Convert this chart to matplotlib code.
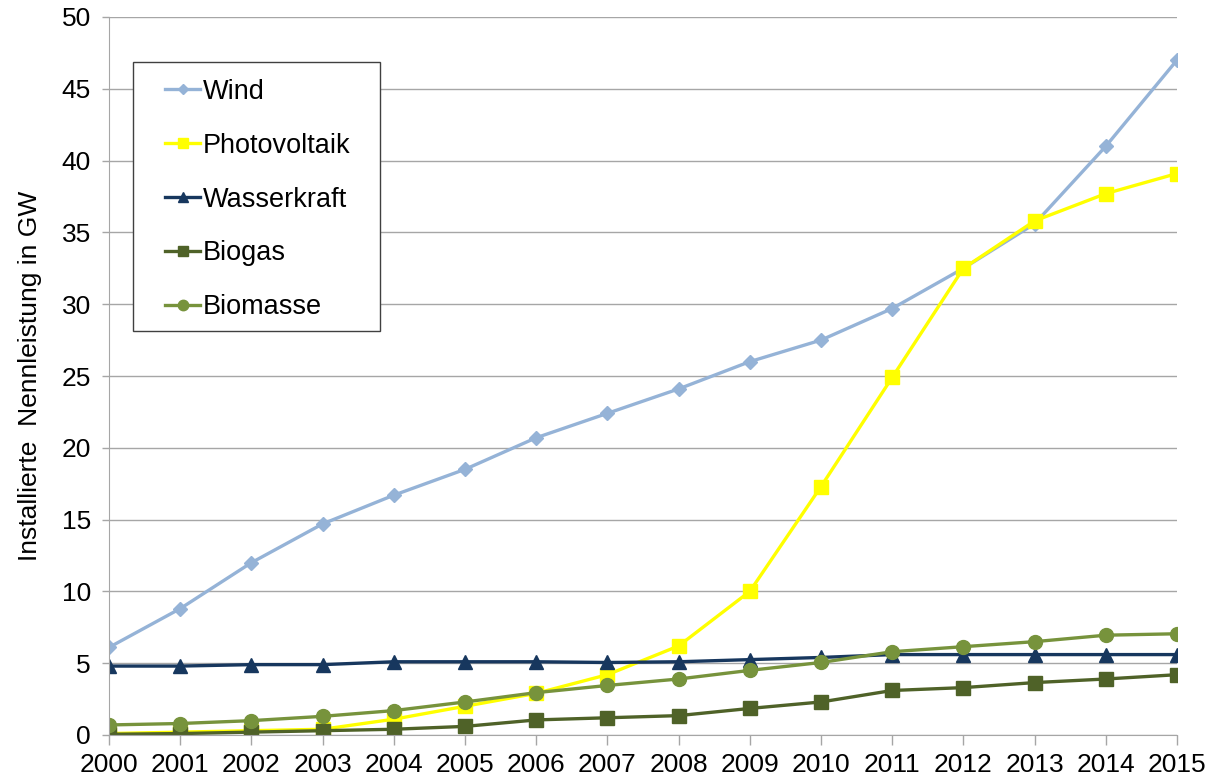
import numpy as np
import matplotlib.pyplot as plt
from matplotlib.patches import Rectangle

plt.rcParams['font.family'] = ['Liberation Sans', 'DejaVu Sans']

years = np.arange(2000, 2016)
wind = [6.1, 8.8, 12.0, 14.7, 16.7, 18.5, 20.7, 22.4, 24.1, 26.0, 27.5, 29.7, 32.5, 35.6, 41.0, 47.0]
photovoltaik = [0.1, 0.2, 0.3, 0.4, 1.1, 2.0, 2.9, 4.2, 6.2, 10.0, 17.3, 24.9, 32.5, 35.8, 37.7, 39.1]
wasserkraft = [4.8, 4.8, 4.9, 4.9, 5.1, 5.1, 5.1, 5.05, 5.1, 5.25, 5.4, 5.6, 5.6, 5.6, 5.6, 5.6]
biogas = [0.05, 0.1, 0.2, 0.3, 0.4, 0.6, 1.05, 1.2, 1.35, 1.85, 2.3, 3.1, 3.3, 3.65, 3.9, 4.2]
biomasse = [0.7, 0.8, 1.0, 1.3, 1.7, 2.3, 2.95, 3.45, 3.9, 4.5, 5.05, 5.8, 6.15, 6.5, 6.95, 7.05]

fig = plt.figure(figsize=(12.12, 7.83), dpi=100)
ax = fig.add_axes([109/1212, 48/783, 1068/1212, 718/783])

lw = 2.4
ax.plot(years, wind, color='#95B3D7', lw=lw, marker='D', ms=7, label='Wind')
ax.plot(years, photovoltaik, color='#FFFF00', lw=lw, marker='s', ms=10, label='Photovoltaik')
ax.plot(years, wasserkraft, color='#17375E', lw=lw, marker='^', ms=10, label='Wasserkraft')
ax.plot(years, biogas, color='#4F6228', lw=lw, marker='s', ms=10, label='Biogas')
ax.plot(years, biomasse, color='#77933C', lw=lw, marker='o', ms=10, label='Biomasse')

ax.set_xlim(2000, 2015)
ax.set_ylim(0, 50)
ax.set_xticks(years)
ax.set_yticks(np.arange(0, 51, 5))
ax.yaxis.grid(True, color='#A6A6A6', lw=1)
ax.set_axisbelow(True)
for s in ['top', 'right']:
    ax.spines[s].set_visible(False)
for s in ['left', 'bottom']:
    ax.spines[s].set_color('#A6A6A6')
ax.tick_params(axis='both', colors='#A6A6A6', labelcolor='black', labelsize=19, length=7, width=1)
ax.tick_params(axis='y', length=5, pad=8)
ax.tick_params(axis='x', pad=6)
ax.set_ylabel('Installierte  Nennleistung in GW', fontsize=19, labelpad=14)

# legend box drawn separately so the padding can be set freely
ax.add_patch(Rectangle((0.0225, 0.5627), 0.2313, 0.3746, transform=ax.transAxes,
                       facecolor='white', edgecolor='#404040', lw=1, zorder=5))
leg = ax.legend(loc='upper left', bbox_to_anchor=(0.0524, 0.914), fontsize=19.5,
                frameon=False, borderpad=0, borderaxespad=0,
                handlelength=1.3, handletextpad=0.1, labelspacing=1.03,
                markerscale=0.75)
leg.set_zorder(6)

fig.savefig('out.png', dpi=100)
